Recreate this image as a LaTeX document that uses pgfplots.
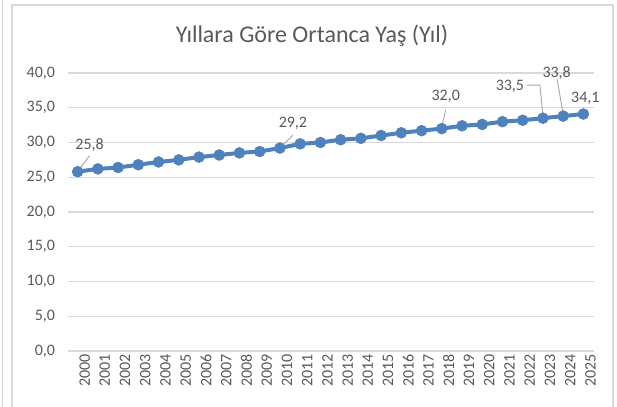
\documentclass[border=0pt]{standalone}
\usepackage{fontspec}
\setmainfont{Carlito}
\usepackage{pgfplots}
\pgfplotsset{compat=1.18}
\definecolor{serblue}{RGB}{79,129,189}
\definecolor{txtgray}{RGB}{89,89,89}
\definecolor{gridgray}{RGB}{217,217,217}
\definecolor{leadgray}{RGB}{166,166,166}
\begin{document}
\begin{tikzpicture}[x=1pt,y=1pt]
\useasboundingbox (0,0) rectangle (617,406);
\draw[gridgray, line width=1.2pt] (12,-5) -- (12,401) -- (613,401) -- (613,-5);
\draw[gridgray, line width=1.2pt] (2.7,-5) -- (2.7,411);
\node[font=\fontsize{24}{28}\selectfont, text=txtgray, anchor=base] at (312,363) {Yıllara Göre Ortanca Yaş (Yıl)};
\begin{axis}[
  at={(67.5pt,55pt)}, anchor=south west,
  scale only axis, width=526pt, height=278pt,
  xmin=-0.5, xmax=25.5, ymin=0, ymax=40,
  xtick={0,...,25},
  xticklabels={2000,2001,2002,2003,2004,2005,2006,2007,2008,2009,2010,2011,2012,2013,2014,2015,2016,2017,2018,2019,2020,2021,2022,2023,2024,2025},
  x tick label style={rotate=90, anchor=east, font=\fontsize{16}{18}\selectfont, text=txtgray},
  xticklabel style={yshift=-7pt},
  ytick={0,5,...,40},
  y tick label style={font=\fontsize{16}{18}\selectfont, text=txtgray},
  yticklabel style={xshift=-9pt},
  /pgf/number format/.cd, fixed, fixed zerofill, precision=1, use comma, assume math mode=true,
  /pgfplots/.cd,
  major tick length=0pt,
  axis y line=left, y axis line style={draw=none},
  axis x line=bottom, x axis line style={draw=gridgray, line width=1.2pt, -},
  ymajorgrids, grid style={draw=gridgray, line width=1.2pt},
  clip=false,
]
\addplot[serblue, line width=4pt, mark=*, mark size=5.5pt, mark options={fill=serblue, draw=serblue, line width=0.5pt}] coordinates {
(0,25.8) (1,26.2) (2,26.4) (3,26.8) (4,27.2) (5,27.5) (6,27.9) (7,28.2) (8,28.5) (9,28.7)
(10,29.2) (11,29.8) (12,30.0) (13,30.4) (14,30.6) (15,31.0) (16,31.4) (17,31.7) (18,32.0) (19,32.4)
(20,32.6) (21,33.0) (22,33.2) (23,33.5) (24,33.8) (25,34.1)
};
% leader lines
\draw[leadgray, line width=0.9pt] ([xshift=2pt,yshift=3pt]axis cs:0,25.8) -- ([xshift=12pt,yshift=16pt]axis cs:0,25.8);
\draw[leadgray, line width=0.9pt] ([xshift=1pt,yshift=1pt]axis cs:10,29.2) -- ([xshift=13pt,yshift=13pt]axis cs:10,29.2);
\draw[leadgray, line width=0.9pt] ([xshift=0pt,yshift=2pt]axis cs:18,32.0) -- ([xshift=4pt,yshift=19pt]axis cs:18,32.0);
\draw[leadgray, line width=0.9pt] ([xshift=-16pt,yshift=33pt]axis cs:23,33.5) -- ([xshift=-3pt,yshift=33pt]axis cs:23,33.5) -- ([xshift=0pt,yshift=3pt]axis cs:23,33.5);
\draw[leadgray, line width=0.9pt] ([xshift=-6pt,yshift=37pt]axis cs:24,33.8) -- ([xshift=-0.5pt,yshift=4.5pt]axis cs:24,33.8);
% data labels
\tikzset{dl/.style={font=\fontsize{16}{18}\selectfont, text=txtgray, inner sep=0pt}}
\node[dl] at ([xshift=12pt,yshift=27pt]axis cs:0,25.8) {25,8};
\node[dl] at ([xshift=13pt,yshift=25pt]axis cs:10,29.2) {29,2};
\node[dl] at ([xshift=4pt,yshift=32pt]axis cs:18,32.0) {32,0};
\node[dl] at ([xshift=-33pt,yshift=31.5pt]axis cs:23,33.5) {33,5};
\node[dl] at ([xshift=-6.5pt,yshift=43pt]axis cs:24,33.8) {33,8};
\node[dl] at ([xshift=2pt,yshift=16pt]axis cs:25,34.1) {34,1};
\end{axis}
\end{tikzpicture}
\end{document}
